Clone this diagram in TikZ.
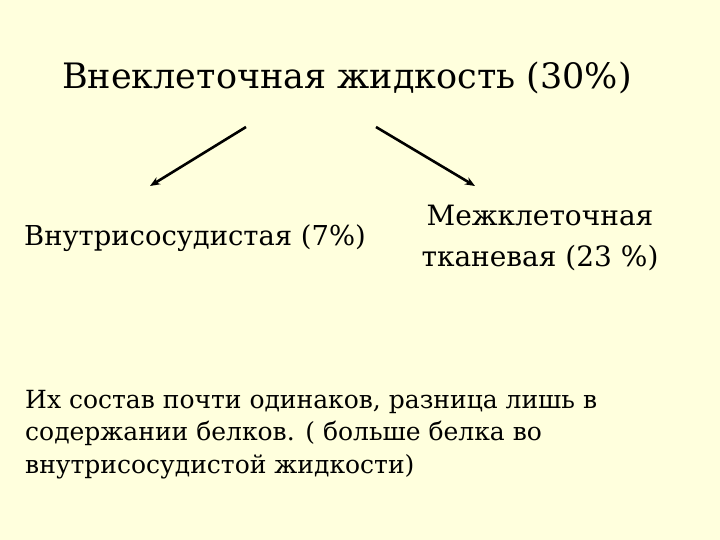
\documentclass[tikz,border=0pt]{standalone}
\usepackage{fontspec}
\setmainfont{DejaVu Serif}
\usetikzlibrary{arrows.meta}
\definecolor{bg}{HTML}{FFFFDD}
\tikzset{
  txt/.style={inner sep=0pt, text=black, font=#1},
  arr/.style={line width=2.6pt, -{Stealth[length=10pt,width=8pt]}}
}
\begin{document}
\begin{tikzpicture}[x=1pt,y=-1pt]
\fill[bg] (0,0) rectangle (720,540);
\useasboundingbox (0,0) rectangle (720,540);
\node[txt=\fontsize{35}{42}\selectfont] (title) at (347,78) {Внеклеточная жидкость (30\%)};
\node[txt=\fontsize{27.4}{33}\selectfont] (left) at (195,238) {Внутрисосудистая (7\%)};
\node[txt=\fontsize{28}{41}\selectfont, align=center] (right) at (540,238) {Межклеточная\\тканевая (23 \%)};
\node[txt=\fontsize{25}{32.5}\selectfont, align=left, anchor=north west] (note) at (25,390) {Их состав почти одинаков, разница лишь в\\содержании белков. ( больше белка во\\внутрисосудистой жидкости)};
\coordinate (a1s) at (246,127);
\coordinate (a1e) at (150,186);
\coordinate (a2s) at (376,127);
\coordinate (a2e) at (475,186);
\draw[arr] (a1s) -- (a1e);
\draw[arr] (a2s) -- (a2e);
\end{tikzpicture}
\end{document}
